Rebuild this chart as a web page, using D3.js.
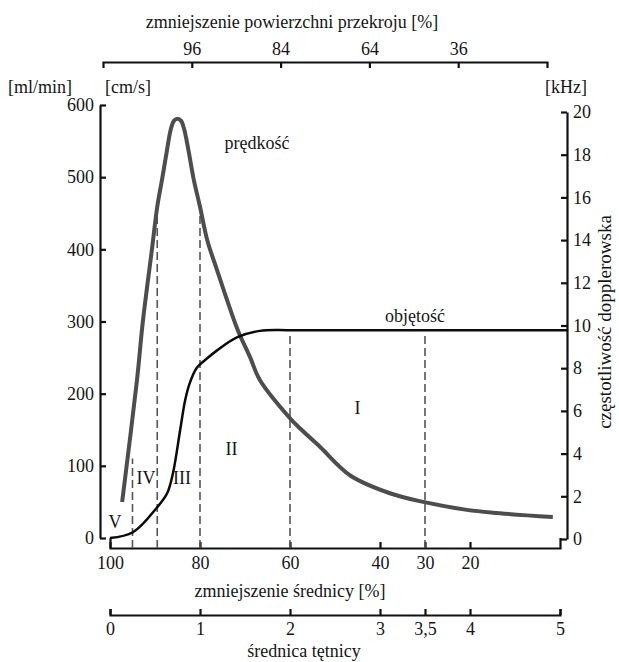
<!DOCTYPE html>
<html lang="pl">
<head>
<meta charset="UTF-8">
<title>Przepływ a zwężenie tętnicy</title>
<script src="https://cdn.jsdelivr.net/npm/d3@7/dist/d3.min.js"></script>
<style>
  body { margin: 0; padding: 0; background: #fff; }
  svg text { font-family: "Liberation Serif", "Times New Roman", Tinos, "DejaVu Serif", serif; fill: #151515; }
  .axis path, .axis line { stroke: #111; stroke-width: 2.2; }
</style>
</head>
<body>
<div id="chart"></div>
<script>
// --- data ---
// diameter reduction [%] vs velocity [cm/s]
const velReduction = [97.3, 94, 92.7, 90.7, 89.5, 88.4, 87.4, 86.5, 85.8, 85, 84.2, 83.5, 82.5, 81.4, 80, 78.4, 76.2, 74, 71.6, 68.9, 66.7, 60, 57.8, 53.3, 46.7, 37.8, 30.4, 20.7, 14.9, 1.6];
const velValues    = [50, 219, 300, 399, 459, 498, 535, 566, 578, 581, 578, 566, 535, 497, 459, 413, 371, 330, 288, 251, 219, 166, 152, 126, 87, 62, 50, 39, 35, 29];
// diameter reduction [%] vs volume flow [ml/min]
const volReduction = [100, 94.9, 89.6, 87.3, 86, 84.4, 83.3, 82.2, 80.7, 78.4, 76.2, 71.8, 66.7, 60, 40, 0, -1.8];
const volValues    = [0, 8, 42, 62, 90, 150, 191, 216, 236, 249, 260, 278, 287, 288, 288, 288, 288];
// dashed region borders: position (diameter reduction) and top (ml/min)
const borderReduction = [95, 89.5, 80, 60, 30];
const borderTop       = [110, 460, 460, 284, 284];
// region labels
const regionNames     = ["V", "IV", "III", "II", "I"];
const regionReduction = [98.9, 92, 84, 73, 45];
const regionLevel     = [22, 84, 84, 124, 180];
// tick labels
const leftTicks     = [0, 100, 200, 300, 400, 500, 600];
const rightTicks    = [0, 2, 4, 6, 8, 10, 12, 14, 16, 18, 20];
const bottomTicks   = [100, 80, 60, 40, 30, 20];
const areaTicks     = [96, 84, 64, 36];
const diameterTicks = [0, 1, 2, 3, 3.5, 4, 5];

const W = 619, H = 662;
const FS = "18px";
const svg = d3.select("#chart").append("svg")
  .attr("width", W).attr("height", H);

// scales
const x = d3.scaleLinear().domain([100, 0]).range([110, 560]);
const y = d3.scaleLinear().domain([0, 600]).range([538, 105]);
const yR = d3.scaleLinear().domain([0, 20]).range([539, 112]);
const xDiam = d3.scaleLinear().domain([0, 5]).range([110, 560]);
// top axis: remaining cross-section area, sqrt relation to diameter
const xTop = d3.scaleSqrt().domain([0, 100]).range([103, 547]);

function styleAxis(g) {
  g.attr("class", "axis").attr("font-family", null).attr("font-size", null);
  g.selectAll("text").style("font-size", FS);
}

// axes
svg.append("g")
  .attr("transform", "translate(0,62)")
  .call(d3.axisTop(xTop).tickValues(areaTicks.map(a => 100 - a))
    .tickFormat(r => 100 - r).tickSizeInner(-6).tickSizeOuter(-6).tickPadding(7))
  .call(styleAxis);

svg.append("g")
  .attr("transform", "translate(100,0)")
  .call(d3.axisLeft(y).tickValues(leftTicks).tickSizeInner(-6).tickSizeOuter(0).tickPadding(6))
  .call(styleAxis);

svg.append("g")
  .attr("transform", "translate(567,0)")
  .call(d3.axisRight(yR).tickValues(rightTicks).tickSizeInner(-6).tickSizeOuter(0).tickPadding(6))
  .call(styleAxis);

svg.append("g")
  .attr("transform", "translate(0,548)")
  .call(d3.axisBottom(x).tickValues(bottomTicks).tickSizeInner(-6).tickSizeOuter(-10).tickPadding(8))
  .call(styleAxis);

svg.append("g")
  .attr("transform", "translate(0,615)")
  .call(d3.axisBottom(xDiam).tickValues(diameterTicks)
    .tickFormat(d => String(d).replace(".", ",")).tickSizeInner(-6).tickSizeOuter(-6).tickPadding(7))
  .call(styleAxis);

// dashed borders
svg.append("g").selectAll("line")
  .data(borderReduction)
  .join("line")
    .attr("x1", d => x(d)).attr("x2", d => x(d))
    .attr("y1", 548).attr("y2", (d, i) => y(borderTop[i]))
    .attr("stroke", "#555").attr("stroke-width", 1.6)
    .attr("stroke-dasharray", "8,4");

// curves
const velData = velReduction.map((d, i) => [d, velValues[i]]);
const volData = volReduction.map((d, i) => [d, volValues[i]]);
const line = d3.line().x(d => x(d[0])).y(d => y(d[1])).curve(d3.curveCatmullRom.alpha(0.5));

svg.append("path").datum(velData)
  .attr("d", line).attr("fill", "none")
  .attr("stroke", "#4d4d4d").attr("stroke-width", 4);

svg.append("path").datum(volData)
  .attr("d", line).attr("fill", "none")
  .attr("stroke", "#0a0a0a").attr("stroke-width", 2.5);

// region labels
svg.append("g").selectAll("text")
  .data(regionNames)
  .join("text")
    .attr("x", (d, i) => x(regionReduction[i]))
    .attr("y", (d, i) => y(regionLevel[i]))
    .attr("text-anchor", "middle").attr("dy", "0.35em")
    .style("font-size", FS)
    .text(d => d);

// texts
const label = (txt, px, py, anchor) => svg.append("text")
  .attr("x", px).attr("y", py).attr("text-anchor", anchor || "middle")
  .style("font-size", FS).text(txt);

label("zmniejszenie powierzchni przekroju [%]", 292, 28);
label("[ml/min]", 8, 93, "start");
label("[cm/s]", 105, 93, "start");
label("[kHz]", 545, 93, "start");
label("prędkość", 257, 149);
label("objętość", 415, 322);
label("zmniejszenie średnicy [%]", 290, 597);
label("średnica tętnicy", 304, 657);

svg.append("text")
  .attr("transform", "translate(611,322) rotate(-90)")
  .attr("text-anchor", "middle")
  .style("font-size", "19px")
  .text("częstotliwość dopplerowska");
</script>
</body>
</html>
